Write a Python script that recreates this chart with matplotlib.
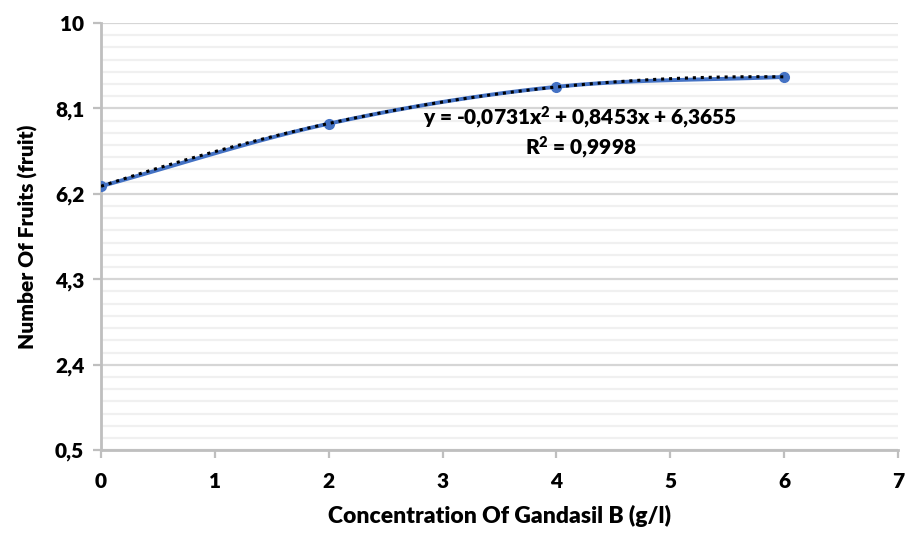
import numpy as np
import matplotlib
matplotlib.use("Agg")
import matplotlib.pyplot as plt
from matplotlib.ticker import FixedLocator

plt.rcParams['font.family'] = ['Lato', 'DejaVu Sans']
plt.rcParams['font.weight'] = 'heavy'
plt.rcParams['mathtext.fontset'] = 'custom'
plt.rcParams['mathtext.rm'] = 'Lato:heavy'
plt.rcParams['mathtext.default'] = 'rm'

# data
conc = [0, 2, 4, 6]
fruits = [6.37, 7.76, 8.58, 8.80]
y_ticks = [0.5, 2.4, 4.3, 6.2, 8.1, 10.0]
y_tick_labels = ['0,5', '2,4', '4,3', '6,2', '8,1', '10']
x_ticks = [0, 1, 2, 3, 4, 5, 6, 7]
eq_text = 'y = -0,0731x$^{2}$ + 0,8453x + 6,3655\nR$^{2}$ = 0,9998'

blue = '#4472C4'

def smooth(xs, ys, n=40):
    # catmull-rom style curve like excel's smoothed line
    xs = np.asarray(xs, float)
    ys = np.asarray(ys, float)
    px = np.concatenate([[2 * xs[0] - xs[1]], xs, [2 * xs[-1] - xs[-2]]])
    py = np.concatenate([[2 * ys[0] - ys[1]], ys, [2 * ys[-1] - ys[-2]]])
    outx, outy = [], []
    for i in range(1, len(px) - 2):
        t = np.linspace(0, 1, n)
        for p, out in ((px, outx), (py, outy)):
            p0, p1, p2, p3 = p[i - 1], p[i], p[i + 1], p[i + 2]
            out.extend(0.5 * (2 * p1 + (-p0 + p2) * t
                              + (2 * p0 - 5 * p1 + 4 * p2 - p3) * t ** 2
                              + (-p0 + 3 * p1 - 3 * p2 + p3) * t ** 3))
    return outx, outy

fig = plt.figure(figsize=(9.07, 5.34), dpi=100)
ax = fig.add_axes([0.1114, 0.157, 0.8786, 0.800])

# minor grid: six thin lines between majors
minor = []
for a, b in zip(y_ticks[:-1], y_ticks[1:]):
    minor.extend(np.linspace(a, b, 8)[1:-1])
ax.yaxis.set_minor_locator(FixedLocator(minor))
ax.grid(axis='y', which='minor', color='#f0f0f0', linewidth=1.6)
ax.grid(axis='y', which='major', color='#d6d6d6', linewidth=1.6)
ax.set_axisbelow(True)

sx, sy = smooth(conc, fruits)
ax.plot(sx, sy, color=blue, linewidth=2.8, zorder=3)
ax.plot(conc, fruits, 'o', color=blue, markersize=7, zorder=4)

coef = np.polyfit(conc, fruits, 2)
tx = np.linspace(0, 6, 200)
ax.plot(tx, np.polyval(coef, tx), color='black', linewidth=2.2,
        linestyle=(0, (1, 1.6)), zorder=5)

ax.text(4.21, 7.55, eq_text, ha='center', va='center', fontsize=15,
        fontweight='heavy', linespacing=1.2)

ax.set_xlim(0, 7)
ax.set_ylim(0.5, 10)
ax.set_xticks(x_ticks)
ax.set_yticks(y_ticks)
ax.set_yticklabels(y_tick_labels)
ax.tick_params(axis='both', which='major', labelsize=15, color='#bfbfbf',
               width=1.6, length=6, pad=6)
ax.tick_params(axis='y', which='minor', length=0)
ax.tick_params(axis='x', pad=10)

for s in ['top', 'right']:
    ax.spines[s].set_visible(False)
for s in ['left', 'bottom']:
    ax.spines[s].set_color('#bfbfbf')
    ax.spines[s].set_linewidth(2)

ax.set_xlabel('Concentration Of Gandasil B (g/l)', fontsize=16.5,
              fontweight='heavy', labelpad=10)
ax.set_ylabel('Number Of Fruits (fruit)', fontsize=15, fontweight='heavy',
              labelpad=12)

fig.savefig('out.png', dpi=100)
